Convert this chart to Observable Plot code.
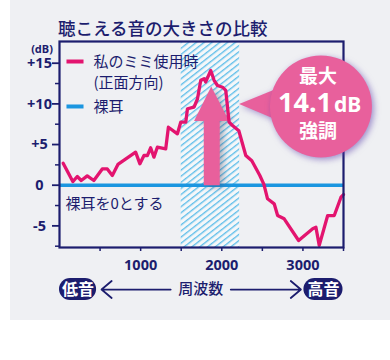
<!DOCTYPE html>
<html><head><meta charset="utf-8">
<script src="https://cdn.jsdelivr.net/npm/d3@7"></script>
<script src="https://cdn.jsdelivr.net/npm/@observablehq/plot@0.6"></script>
<style>
body{margin:0;background:#fff}
#wrap{position:relative;width:390px;height:360px;overflow:hidden}
#panel{position:absolute;left:10px;top:0;width:380px;height:320px;background:#eff0f3}
#chart{position:absolute;left:0;top:0}
</style></head>
<body><div id="wrap"><div id="panel"></div><div id="chart"></div></div>
<script>
// ---- data ----
const title = "聴こえる音の大きさの比較";
const freq = [45,164,219,268,342,423,527,589,651,720,938,991,1041,1083,1123,1164,1206,1309,1342,1453,1494,1556,1577,1658,1700,1741,1782,1802,1864,1905,1947,2009,2049,2090,2132,2210,2296,2370,2469,2519,2564,2646,2688,2769,2947,3120,3160,3201,3305,3386,3469,3500];
const gainDb = [2.7,0.45,1.07,0.58,1.15,0.58,2.0,2.0,1.2,2.55,4.06,2.63,3.65,3.65,4.6,3.45,4.67,4.47,7.13,6.32,7.75,7.75,9.4,9.6,10.6,12.9,13.1,12.7,14.1,12.9,12.26,12.05,11.65,7.75,7.34,6.7,3.65,3.0,1.2,0.1,-1.67,-2.29,-3.73,-4.13,-6.8,-5.36,-5.17,-7.4,-3.73,-3.73,-1.48,-1.15];
const bareEarDb = 0;
const seriesNames = ["私のミミ使用時", "(正面方向)", "裸耳"];
const zeroNote = "裸耳を0とする";
const emphBand = [1500, 2220];
const yMajor = [-5, 0, 5, 10, 15];
const yMinor = [-7.5, -2.5, 2.5, 7.5, 12.5];
const yLabels = ["-5", "0", "+5", "+10", "+15"];
const xTicks = [500, 1000, 1500, 2000, 2500, 3000, 3500];
const xLabels = [1000, 2000, 3000];
const peakText = ["最大", "14.1", "dB", "強調"];
const axisWords = ["低音", "周波数", "高音"];

// annotation geometry (data units: Hz, dB)
const arrowShape = [[1778,0],[1778,7.9],[1658,7.9],[1870,12.14],[2090,7.9],[1975,7.9],[1975,0]];
const bubble = {x: 3222, y: 9.68};
const bubbleTail = [[2214,10.0],[2660,11.8],[2660,8.1]];
const legendLines = [{x1:86,x2:296,y:15.21,c:0},{x1:86,x2:296,y:9.68,c:1}];
const bottomY = -12.83;
const pills = [{x1:0,x2:457,cx:228,t:axisWords[0]},{x1:3012,x2:3494,cx:3253,t:axisWords[2]}];
const bottomArrows = [{x1:1370,x2:518},{x1:2111,x2:2975}];

const navy = "#1c1d6e", pink = "#e3146f", blue = "#1b96e0", softPink = "#e8609c";
const font = "'Noto Sans CJK JP', sans-serif";
const numFont = "'Noto Sans', sans-serif";

const curve = freq.map((f, i) => ({f, db: gainDb[i]}));
const mid = {lineAnchor: "middle"};

const plot = Plot.plot({
  width: 390, height: 320,
  marginLeft: 59, marginRight: 47, marginTop: 41, marginBottom: 73,
  x: {domain: [0, 3500], axis: null},
  y: {domain: [-7.66, 17.67], axis: null},
  style: {background: "transparent", color: navy, fontFamily: font, overflow: "visible"},
  marks: [
    Plot.rect([emphBand], {x1: d => d[0], x2: d => d[1], fill: "#f5f7f9"}),
    Plot.rect([emphBand], {x1: d => d[0], x2: d => d[1], fill: "url(#hatch)"}),
    Plot.ruleY([bareEarDb], {stroke: blue, strokeWidth: 3.4}),
    Plot.line(arrowShape, {x: d => d[0], y: d => d[1], fill: softPink, stroke: "none", imageFilter: "drop-shadow(4px 2px 3px rgba(60,60,90,0.35))"}),
    Plot.line(curve, {x: "f", y: "db", stroke: pink, strokeWidth: 3.3, strokeLinejoin: "round"}),
    Plot.frame({stroke: navy, strokeWidth: 2.2}),
    // axes ticks
    Plot.axisY(yMajor, {tickSize: 7, tickFormat: () => "", strokeWidth: 1.8}),
    Plot.axisY(yMinor, {tickSize: 4, tickFormat: () => "", strokeWidth: 1.5}),
    Plot.axisX(xTicks, {tickSize: 4, tickFormat: () => "", strokeWidth: 1.5}),
    Plot.text(yMajor, {y: d => d, text: (d, i) => yLabels[i], frameAnchor: "left", dx: -20, textAnchor: "middle", ...mid, fontWeight: 700, fontSize: 14.5, fontFamily: numFont, fill: navy}),
    Plot.text(["(dB)"], {text: d => d, frameAnchor: "top-left", dx: -17.5, dy: 8, textAnchor: "middle", ...mid, fontWeight: 700, fontSize: 11, fontFamily: numFont, fill: navy}),
    Plot.text(xLabels, {x: d => d, text: d => String(d), frameAnchor: "bottom", dy: 18, ...mid, fontWeight: 700, fontSize: 14.5, fontFamily: numFont, fill: navy}),
    // legend
    Plot.link(legendLines, {x1: "x1", x2: "x2", y1: "y", y2: "y", stroke: d => d.c ? blue : pink, strokeWidth: 4}),
    Plot.text([seriesNames[0]], {text: d => d, frameAnchor: "top-left", dx: 34, dy: 21, textAnchor: "start", ...mid, fontSize: 15, fill: navy}),
    Plot.text([seriesNames[1]], {text: d => d, frameAnchor: "top-left", dx: 34, dy: 41.7, textAnchor: "start", ...mid, fontSize: 15, fill: navy}),
    Plot.text([seriesNames[2]], {text: d => d, frameAnchor: "top-left", dx: 34, dy: 66, textAnchor: "start", ...mid, fontSize: 15, fill: navy}),
    Plot.text([zeroNote], {x: 0, y: bareEarDb, text: d => d, dx: 6, dy: 19, textAnchor: "start", ...mid, fontSize: 15, fill: navy}),
    // title
    Plot.text([title], {text: d => d, frameAnchor: "top-left", dx: -1.5, dy: -12.5, textAnchor: "start", ...mid, fontSize: 17.5, fontWeight: 500, fill: navy}),
    // bubble
    Plot.line(bubbleTail, {x: d => d[0], y: d => d[1], fill: softPink, stroke: "none", imageFilter: "drop-shadow(2px 2px 3px rgba(90,60,170,0.5))"}),
    Plot.dot([bubble], {x: "x", y: "y", r: 51, fill: softPink, stroke: "none", imageFilter: "drop-shadow(2px 2px 3px rgba(90,60,170,0.55))"}),
    Plot.text([peakText[0]], {x: bubble.x, y: bubble.y, text: d => d, dx: -3, dy: -30, ...mid, fill: "white", fontSize: 19, fontWeight: 700}),
    Plot.text([peakText[1]], {x: bubble.x, y: bubble.y, text: d => d, dy: -3.3, dx: 11, textAnchor: "end", ...mid, fill: "white", fontSize: 27, fontWeight: 700, fontFamily: numFont}),
    Plot.text([peakText[2]], {x: bubble.x, y: bubble.y, text: d => d, dy: -1.6, dx: 13, textAnchor: "start", ...mid, fill: "white", fontSize: 21, fontWeight: 700, fontFamily: numFont}),
    Plot.text([peakText[3]], {x: bubble.x, y: bubble.y, text: d => d, dx: -3, dy: 25, ...mid, fill: "white", fontSize: 19, fontWeight: 700}),
    // bottom axis words
    Plot.rect(pills, {x1: "x1", x2: "x2", y1: bottomY + 1.35, y2: bottomY - 1.35, rx: 11, fill: navy}),
    Plot.text(pills, {x: "cx", y: bottomY, text: "t", ...mid, fill: "white", fontSize: 16, fontWeight: 700}),
    Plot.text([axisWords[1]], {x: 1741, y: bottomY, text: d => d, ...mid, fill: navy, fontSize: 15, fontWeight: 500}),
    Plot.arrow(bottomArrows, {x1: "x1", x2: "x2", y1: bottomY, y2: bottomY, stroke: navy, strokeWidth: 1.8, headLength: 11, headAngle: 80})
  ]
});

// hatch pattern definition
const ns = "http://www.w3.org/2000/svg";
const defs = document.createElementNS(ns, "defs");
defs.innerHTML = '<pattern id="hatch" patternUnits="userSpaceOnUse" width="4.8" height="10" patternTransform="rotate(52)"><line x1="0.7" y1="0" x2="0.7" y2="10" stroke="#58bce9" stroke-width="1.3"/></pattern>';
plot.insertBefore(defs, plot.firstChild);
document.getElementById("chart").appendChild(plot);
</script>
</body></html>
